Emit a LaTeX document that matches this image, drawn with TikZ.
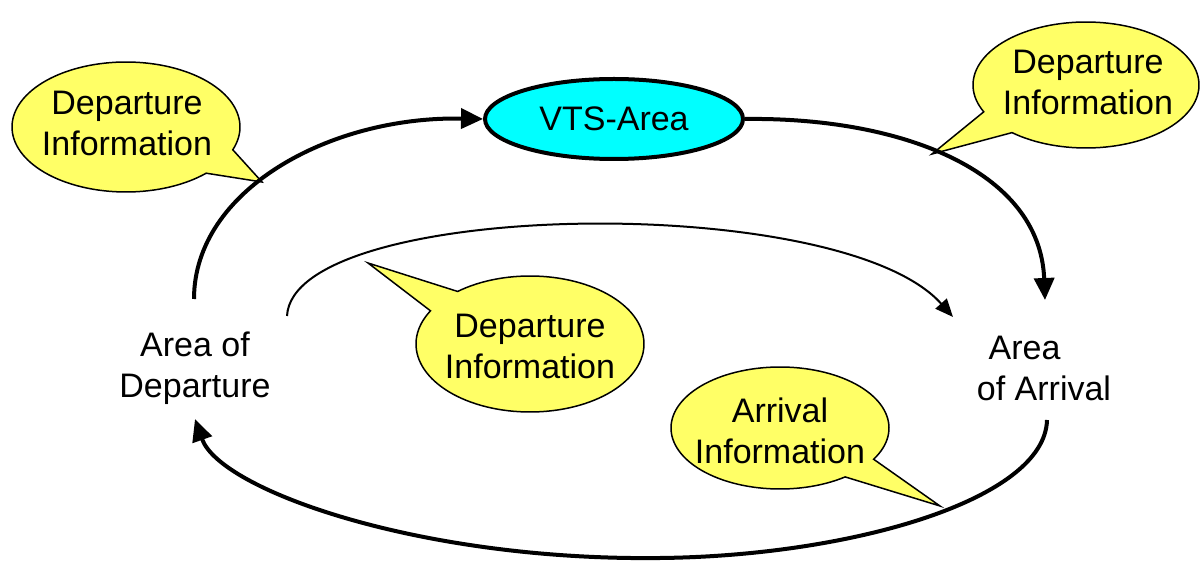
\documentclass[tikz,border=0pt]{standalone}
\usepackage{fontspec}
\setmainfont{Liberation Sans}
\usetikzlibrary{arrows.meta,shapes.geometric}
\definecolor{callyellow}{RGB}{255,255,102}
\definecolor{vtscyan}{RGB}{0,255,255}
\begin{document}
\begin{tikzpicture}[x=1pt,y=-1pt,
  lbl/.style={align=center,inner sep=0pt,font=\fontsize{34}{41}\selectfont},
  bubble/.style={fill=callyellow,draw=black,line width=1.5pt,line join=miter},
  thickflow/.style={line width=4pt,-{Triangle[length=22pt,width=20pt]}},
  thinflow/.style={line width=2pt,-{Triangle[length=18pt,width=15pt]}}]
\useasboundingbox (0,0) rectangle (1200,561);

% callouts
\filldraw[bubble] plot[domain=45.3:380.5,samples=120,variable=\t] ({126+114*cos(\t)},{127+65*sin(\t)}) -- (262,182) -- cycle;
\filldraw[bubble] plot[domain=154.8:490.9,samples=120,variable=\t] ({1086+113*cos(\t)},{85+63*sin(\t)}) -- (932,154) -- cycle;
\filldraw[bubble] plot[domain=230.6:569.2,samples=120,variable=\t] ({530+114*cos(\t)},{344+68*sin(\t)}) -- (368,263) -- cycle;
\filldraw[bubble] plot[domain=53.3:390.8,samples=120,variable=\t] ({780+109*cos(\t)},{428+61*sin(\t)}) -- (940,506) -- cycle;

\node[lbl] (c1) at (127,123) {Departure\\Information};
\node[lbl] (c2) at (1088,82) {Departure\\Information};
\node[lbl] (c3) at (530,346) {Departure\\Information};
\node[lbl] (c4) at (780,431) {Arrival\\Information};

% main nodes
\node[ellipse,draw,line width=4pt,fill=vtscyan,minimum width=258pt,minimum height=80pt,inner sep=0pt,font=\fontsize{34}{41}\selectfont] (vts) at (614,119) {VTS-Area};
\node[lbl] (dep) at (195,368) {Area of\\Departure};
\node[lbl] (arr) at (1044,368) {Area\hspace*{39pt}\\of Arrival};

\coordinate (depTop) at (194,299);
\coordinate (depTop2) at (287,316);
\coordinate (depBot) at (195,419);
\coordinate (arrTop) at (1045,300);
\coordinate (arrTop2) at (953,317);
\coordinate (arrBot) at (1047,420);
\coordinate (bottom) at (660,558);

\draw[thickflow] (depTop) .. controls (194,190) and (330,116) .. (vts.west);
\draw[thickflow] (vts.east) .. controls (900,117) and (1040,170) .. (arrTop);
\draw[thinflow] (depTop2) .. controls (293,200) and (840,190) .. (arrTop2);
\draw[thickflow] (arrBot) .. controls (1045,500) and (850,556) .. (bottom) .. controls (420,561) and (220,490) .. (depBot);
\end{tikzpicture}
\end{document}
